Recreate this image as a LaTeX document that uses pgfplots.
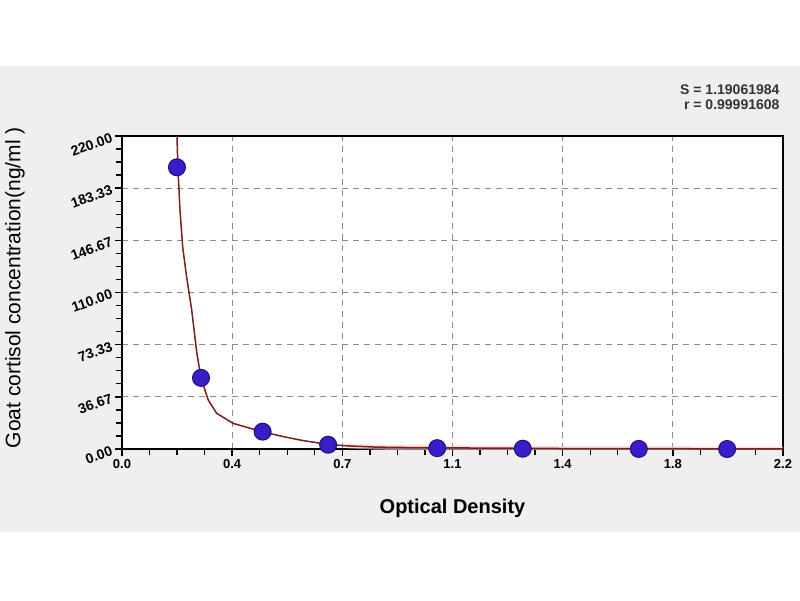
\documentclass[border=0pt]{standalone}
\usepackage{fontspec}
\setmainfont{Liberation Sans}
\usepackage{pgfplots}
\pgfplotsset{compat=1.18}
\definecolor{bggray}{HTML}{EFEFEF}
\definecolor{mk}{HTML}{3A1CC8}
\definecolor{mkd}{HTML}{22107A}
\definecolor{crv}{HTML}{7A1E1E}
\definecolor{grd}{HTML}{8C8C8C}
\begin{document}
\begin{tikzpicture}
\fill[white] (0pt,0pt) rectangle (800pt,600pt);
\fill[bggray] (0pt,68pt) rectangle (800pt,534pt);
\fill[white] (122pt,151pt) rectangle (783pt,464pt);
\begin{axis}[
  at={(122pt,151pt)}, anchor=south west,
  width=661pt, height=313pt, scale only axis,
  xmin=0, xmax=2.2, ymin=0, ymax=220,
  xtick={0,0.366667,0.733333,1.1,1.466667,1.833333,2.2},
  xticklabels={0.0,0.4,0.7,1.1,1.4,1.8,2.2},
  ytick={0,36.6667,73.3333,110,146.6667,183.3333,220},
  yticklabels={0.00,36.67,73.33,110.00,146.67,183.33,220.00},
  minor xtick={0,0.0916667,0.183333,0.275,0.366667,0.458333,0.55,0.641667,0.733333,0.825,0.916667,1.008333,1.1,1.191667,1.283333,1.375,1.466667,1.558333,1.65,1.741667,1.833333,1.925,2.016667,2.108333,2.2},
  minor ytick={0,9.1667,18.3333,27.5,36.6667,45.8333,55,64.1667,73.3333,82.5,91.6667,100.8333,110,119.1667,128.3333,137.5,146.6667,155.8333,165,174.1667,183.3333,192.5,201.6667,210.8333,220},
  xmajorgrids, ymajorgrids,
  xtick align=outside, ytick align=outside,
  xtick pos=left, ytick pos=left,
  major tick length=7pt, minor tick length=6pt,
  every tick/.append style={black, line width=1.4pt},
  axis line style={black, line width=1.8pt},
  major grid style={grd, line width=1.2pt, dash pattern=on 6pt off 5pt},
  xticklabel style={font=\bfseries\fontsize{13}{13}\selectfont},
  yticklabel style={font=\bfseries\fontsize{14}{14}\selectfont, rotate=20, anchor=east},
  xlabel={Optical Density},
  ylabel={Goat cortisol concentration(ng/ml )},
  every axis x label/.style={at={(axis description cs:0.5,-0.188)}, anchor=center, font=\bfseries\fontsize{20}{24}\selectfont},
  every axis y label/.style={at={(axis description cs:-0.162,0.515)}, rotate=90, anchor=center, font=\fontsize{21}{24}\selectfont},
  clip mode=individual,
]
\addplot[red!18, line width=5pt, opacity=0.6] coordinates {
(0.75,2.2) (0.85,1.3) (1.0,0.9) (1.24,0.6) (1.5,0.3) (1.8,0.2) (2.2,0.1)};
\addplot[crv, line width=1.5pt] coordinates {
(0.183,220) (0.186,198) (0.193,168) (0.202,142) (0.215,121) (0.232,97.7)
(0.249,67.5) (0.263,50) (0.287,34.4) (0.315,25.1) (0.370,18.0) (0.469,12)
(0.537,8.7) (0.60,6) (0.686,3.2) (0.75,2.2) (0.85,1.3) (1.0,0.9) (1.24,0.6)
(1.5,0.3) (1.8,0.2) (2.2,0.1)};
\addplot[only marks, mark=*, mark size=8.5pt, mark options={fill=mk, draw=mkd, line width=1pt}] coordinates {
(0.183,198) (0.263,50) (0.468,12.2) (0.686,3) (1.049,0.6) (1.334,0.2) (1.72,0.05) (2.014,0)};
\node[anchor=east, font=\bfseries\fontsize{14}{14}\selectfont, text=black!80] at (rel axis cs:1,1) [yshift=46pt] {S = 1.19061984};
\node[anchor=east, font=\bfseries\fontsize{14}{14}\selectfont, text=black!80] at (rel axis cs:1,1) [yshift=31pt] {r = 0.99991608};
\end{axis}
\end{tikzpicture}
\end{document}
